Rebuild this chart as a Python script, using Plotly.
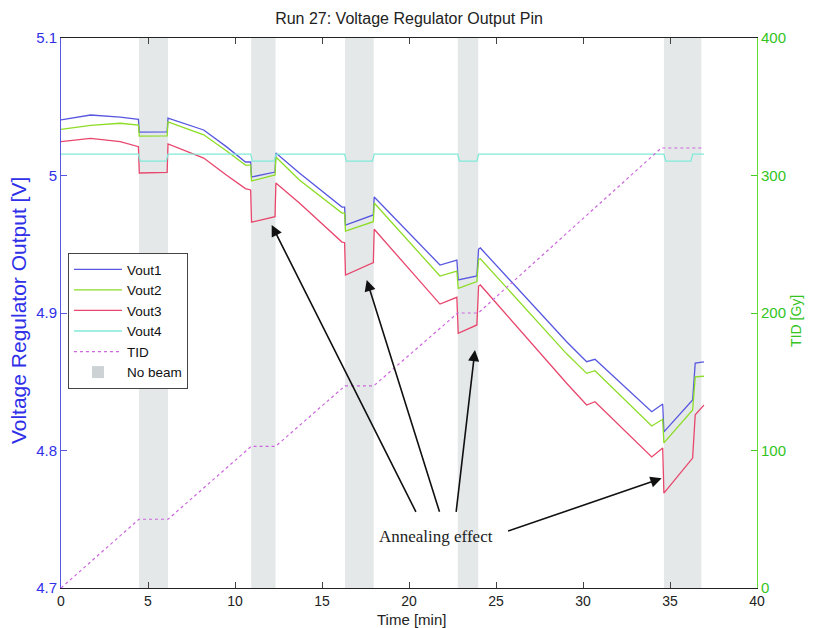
import plotly.graph_objects as go

# ---------------- data ----------------
t_v = [0, 1.7, 3.4, 4.45, 4.5, 6.1, 6.15, 8.2, 9.5, 10.6, 10.9, 10.95, 12.3, 12.35,
       13.7, 16.15, 16.3, 16.35, 17.95, 18.0, 21.78, 22.75, 22.83, 23.9, 24.0, 24.1,
       29.06, 30.21, 30.69, 33.95, 34.58, 34.65, 36.3, 36.45, 36.95]
vout1 = [5.0404, 5.0440, 5.0425, 5.0409, 5.0316, 5.0318, 5.0418, 5.0331, 5.0210, 5.0098,
         5.0098, 4.9989, 5.0025, 5.0164, 5.0018, 4.9770, 4.9770, 4.9640, 4.9713, 4.9844,
         4.9349, 4.9385, 4.9240, 4.9269, 4.9465, 4.9473, 4.8791, 4.8646, 4.8663, 4.8282,
         4.8338, 4.8135, 4.8367, 4.8636, 4.8645]
vout2 = [5.0336, 5.0365, 5.0380, 5.0367, 5.0287, 5.0288, 5.0390, 5.0296, 5.0180, 5.0076,
         5.0076, 4.9960, 5.0004, 5.0135, 4.9967, 4.9727, 4.9727, 4.9595, 4.9664, 4.9800,
         4.9269, 4.9305, 4.9180, 4.9228, 4.9390, 4.9395, 4.8703, 4.8561, 4.8580, 4.8178,
         4.8227, 4.8055, 4.8295, 4.8535, 4.8540]
vout3 = [5.0246, 5.0270, 5.0246, 5.0210, 5.0018, 5.0022, 5.0230, 5.0127, 5.0004, 4.9905,
         4.9895, 4.9660, 4.9700, 4.9945, 4.9800, 4.9516, 4.9511, 4.9276, 4.9366, 4.9609,
         4.9065, 4.9114, 4.8852, 4.8913, 4.9196, 4.9204, 4.8489, 4.8331, 4.8355, 4.7953,
         4.8018, 4.7690, 4.7945, 4.8260, 4.8330]

t_v4 = [0, 4.45, 4.55, 6.05, 6.15, 10.9, 11.0, 12.25, 12.35, 16.3, 16.4, 17.9, 18.0,
        22.8, 22.9, 23.9, 24.0, 34.65, 34.75, 36.2, 36.3, 36.95]
vout4 = [5.0155, 5.0155, 5.0105, 5.0105, 5.0155, 5.0155, 5.0105, 5.0105, 5.0155,
         5.0155, 5.0105, 5.0105, 5.0155, 5.0155, 5.0105, 5.0105, 5.0155, 5.0155,
         5.0105, 5.0105, 5.0155, 5.0155]

t_tid = [0, 4.48, 6.15, 10.93, 12.33, 16.32, 17.97, 22.8, 23.98, 34.5, 36.9]
tid = [0, 50, 50, 103, 103, 147, 147, 200, 200, 320, 320]

beam_off_start = [4.48, 10.93, 16.32, 22.80, 34.65]
beam_off_end = [6.15, 12.33, 17.97, 23.98, 36.80]

x_ticks = [0, 5, 10, 15, 20, 25, 30, 35, 40]
y_ticks = [4.7, 4.8, 4.9, 5.0, 5.1]
y_tick_text = ["4.7", "4.8", "4.9", "5", "5.1"]
tid_ticks = [0, 100, 200, 300, 400]

annot_text = "Annealing effect"
annot_pos = (21.55, 4.7378)
arrow_heads = [(12.11, 4.964), (17.57, 4.924), (23.79, 4.8731), (34.52, 4.7798)]
arrow_tails = [(20.44, 4.7543), (21.78, 4.7543), (22.70, 4.7543), (25.61, 4.7410)]

# ---------------- figure ----------------
C1 = "#5757e0"
C2 = "#8ddc26"
C3 = "#e8466c"
C4 = "#80ead8"
CT = "#cc66dd"
BAND = "rgb(228,232,233)"
FONT = "Liberation Sans, Arial, sans-serif"
BLUE_T = "#3030e8"
GREEN_T = "#33c422"

fig = go.Figure()
fig.add_trace(go.Scatter(x=t_v, y=vout1, mode="lines", name="Vout1",
                         line=dict(color=C1, width=1.3)))
fig.add_trace(go.Scatter(x=t_v, y=vout2, mode="lines", name="Vout2",
                         line=dict(color=C2, width=1.3)))
fig.add_trace(go.Scatter(x=t_v, y=vout3, mode="lines", name="Vout3",
                         line=dict(color=C3, width=1.3)))
fig.add_trace(go.Scatter(x=t_v4, y=vout4, mode="lines", name="Vout4",
                         line=dict(color=C4, width=1.3)))
fig.add_trace(go.Scatter(x=t_tid, y=tid, mode="lines", name="TID", yaxis="y2",
                         line=dict(color=CT, width=1.2, dash="dot")))
fig.add_trace(go.Scatter(x=[None], y=[None], mode="markers", name="No beam",
                         marker=dict(symbol="square", size=12, color="rgb(205,210,212)")))

shapes = []
for s, e in zip(beam_off_start, beam_off_end):
    shapes.append(dict(type="rect", xref="x", yref="paper", x0=s, x1=e, y0=0, y1=1,
                       fillcolor=BAND, line=dict(width=0), layer="below"))

annotations = [dict(x=annot_pos[0], y=annot_pos[1], xref="x", yref="y", text=annot_text,
                    showarrow=False, font=dict(family="Liberation Serif, DejaVu Serif, serif",
                                               size=17, color="#222"))]
for (hx, hy), (tx, ty) in zip(arrow_heads, arrow_tails):
    annotations.append(dict(x=hx, y=hy, ax=tx, ay=ty, xref="x", yref="y", axref="x", ayref="y",
                            text="", showarrow=True, arrowhead=2, arrowsize=1.4,
                            arrowwidth=1.6, arrowcolor="#111"))
# axis titles as paper annotations
annotations.append(dict(x=-0.062, y=0.505, xref="paper", yref="paper", showarrow=False,
                        text="Voltage Regulator Output [V]", textangle=-90,
                        xanchor="center", yanchor="middle",
                        font=dict(size=21, color=BLUE_T)))
annotations.append(dict(x=1.057, y=0.485, xref="paper", yref="paper", showarrow=False,
                        text="TID [Gy]", textangle=-90, xanchor="center", yanchor="middle",
                        font=dict(size=14, color=GREEN_T)))
annotations.append(dict(x=0.503, y=-0.057, xref="paper", yref="paper", showarrow=False,
                        text="Time [min]", xanchor="center", yanchor="middle",
                        font=dict(size=15, color="#222")))

# the page body has an 8px default margin, so the figure is sized/offset to compensate
fig.update_layout(
    width=805, height=620,
    margin=dict(l=53, r=56, t=30, b=40, autoexpand=False),
    paper_bgcolor="white", plot_bgcolor="white",
    font=dict(family=FONT, size=14, color="#222"),
    title=dict(text="Run 27: Voltage Regulator Output Pin", x=0.5, xref="paper",
               y=0.984, yref="container", yanchor="middle", font=dict(size=16, color="#222")),
    showlegend=True,
    legend=dict(x=0.01, y=0.609, xanchor="left", yanchor="top",
                bgcolor="white", bordercolor="#444", borderwidth=1,
                font=dict(size=13.5, color="#111"), tracegroupgap=0, itemwidth=48),
    xaxis=dict(range=[0, 40], tickvals=x_ticks, ticks="inside", ticklen=6,
               showline=True, linecolor="#222", linewidth=1, mirror="ticks",
               showgrid=False, zeroline=False, automargin=False,
               tickfont=dict(size=14, color="#222")),
    yaxis=dict(range=[4.7, 5.1], tickvals=y_ticks, ticktext=y_tick_text, ticks="inside",
               ticklen=6, tickcolor=C1, showline=True, linecolor=C1, linewidth=1,
               showgrid=False, zeroline=False, automargin=False,
               tickfont=dict(size=15, color=BLUE_T)),
    yaxis2=dict(range=[0, 400], tickvals=tid_ticks, ticks="inside", ticklen=6,
                tickcolor="#44cc22", overlaying="y", side="right", showline=True,
                linecolor="#66dd33", linewidth=1, showgrid=False, zeroline=False,
                automargin=False, tickfont=dict(size=15, color=GREEN_T)),
    shapes=shapes,
    annotations=annotations,
)

fig.write_html("out.html")
